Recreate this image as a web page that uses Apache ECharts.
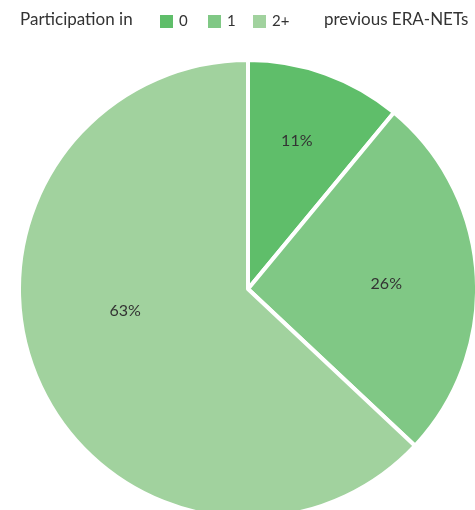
<!DOCTYPE html>
<html>
<head>
<meta charset="utf-8">
<script src="https://cdn.jsdelivr.net/npm/echarts@6/dist/echarts.min.js"></script>
<style>
  html, body { margin: 0; padding: 0; background: #fff; }
  #chart { width: 475px; height: 510px; }
</style>
</head>
<body>
<div id="chart"></div>
<script>
// 数据
const categories = ['0', '1', '2+'];
const shares = [11, 26, 63];
const sliceColors = ['#5fbe6a', '#80c885', '#a1d29e'];
// label nudges so the percentages sit roughly where the original has them
const labelOffsets = [[9, -38], [21, 2], [-15, -25]];

const chart = echarts.init(document.getElementById('chart'));
const font = 'Lato, "Open Sans", sans-serif';

const legendLefts = [158, 206, 251];

const option = {
    backgroundColor: '#fff',
    animation: false,
    legend: categories.map((c, i) => ({
        left: legendLefts[i],
        top: 13,
        padding: 0,
        itemWidth: 15,
        itemHeight: 15,
        icon: 'rect',
        data: [c],
        textStyle: { fontFamily: font, fontSize: 15, color: '#333' }
    })),
    graphic: [
        {
            type: 'text', left: 20, top: 11,
            style: { text: 'Participation in', font: '17px ' + font, fill: '#333' }
        },
        {
            type: 'text', left: 324, top: 11,
            style: { text: 'previous ERA-NETs', font: '17px ' + font, fill: '#333' }
        }
    ],
    series: [{
        type: 'pie',
        center: [248, 289],
        radius: 229,
        startAngle: 90,
        clockwise: true,
        itemStyle: { borderColor: '#fff', borderWidth: 4 },
        label: {
            position: 'inside',
            formatter: '{c}%',
            fontFamily: font,
            fontSize: 16,
            color: '#333'
        },
        labelLine: { show: false },
        data: categories.map((c, i) => ({
            name: c,
            value: shares[i],
            itemStyle: { color: sliceColors[i] },
            label: { offset: labelOffsets[i] }
        }))
    }]
};

chart.setOption(option);
</script>
</body>
</html>
